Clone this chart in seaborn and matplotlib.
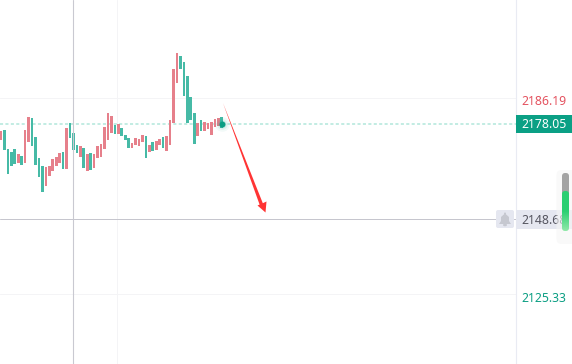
import seaborn as sns
import pandas as pd
import numpy as np
import matplotlib
matplotlib.use('Agg')
import matplotlib.pyplot as plt
from matplotlib.patches import Polygon, Rectangle, FancyBboxPatch, Ellipse

sns.set_theme(style="white")
plt.rcParams['font.family'] = ['Noto Sans', 'DejaVu Sans']

# candle bodies (price)
tops = [2175.98, 2176.19, 2170.32, 2169.39, 2170.32, 2168.77, 2168.15, 2176.19, 2180.21, 2179.90,
        2174.03, 2167.53, 2165.06, 2164.75, 2165.06, 2167.22, 2167.84, 2169.08, 2169.39, 2176.81,
        2178.36, 2175.26, 2171.55, 2171.24, 2170.63, 2168.77, 2169.08, 2168.77, 2171.24, 2171.86,
        2177.12, 2181.45, 2180.52, 2177.74, 2178.05, 2176.81, 2174.65, 2173.72, 2172.17, 2173.72,
        2173.41, 2174.65, 2174.34, 2171.55, 2172.48, 2172.79, 2173.41, 2174.03, 2174.34, 2179.28,
        2195.05, 2200.00, 2199.07, 2197.22, 2192.89, 2186.40, 2181.45, 2178.36, 2179.28, 2178.67,
        2178.36, 2178.67, 2179.59, 2179.90, 2180.21]
bottoms = [2173.10, 2170.01, 2162.59, 2165.06, 2165.68, 2165.99, 2165.37, 2165.99, 2172.48, 2171.24,
           2165.37, 2161.66, 2157.02, 2158.88, 2161.97, 2163.51, 2165.06, 2165.99, 2164.13, 2164.13,
           2173.72, 2170.01, 2169.08, 2167.84, 2164.44, 2163.51, 2163.82, 2164.44, 2167.53, 2167.84,
           2170.32, 2173.10, 2175.26, 2174.95, 2174.95, 2174.34, 2173.10, 2170.63, 2170.63, 2171.55,
           2171.24, 2172.48, 2167.53, 2169.39, 2169.70, 2170.01, 2171.55, 2170.63, 2169.70, 2171.55,
           2178.36, 2190.72, 2195.05, 2186.70, 2178.36, 2179.28, 2171.86, 2174.34, 2175.88, 2175.88,
           2176.50, 2174.65, 2177.12, 2177.43, 2176.81]
sides = list("rgggg" "rgrrg" "gggrr" "rrrgr" "gggrg" "rgrrr" "rrrgr" "gggrr" "rrgrg" "rrgrr" "rrggg"
             "ggrgr" "rrrrg")

last_price = 2178.05
high_price = 2186.19
order_price = 2148.68
low_price = 2125.33

red = '#e6808b'
green = '#46baa6'

df = pd.DataFrame({'idx': np.arange(len(tops)), 'top': tops, 'bottom': bottoms, 'side': sides})
df['span'] = df['top'] - df['bottom']

W, H = 572, 364
fig = plt.figure(figsize=(W / 100, H / 100), dpi=100, facecolor='white')
ax = fig.add_axes([0, 0, 516 / W, 1])

ax.axhline(high_price, color='#f4f4f6', lw=0.72, zorder=0)
ax.axhline(low_price, color='#f4f4f6', lw=0.72, zorder=0)
ax.axvline(33.6, color='#f4f4f6', lw=0.72, zorder=0)
ax.axhline(last_price, color='#bdeae0', lw=1.3, dashes=(1.7, 1.3), zorder=0)

for side, color in [('r', red), ('g', green)]:
    part = df[df['side'] == side]
    sns.barplot(data=part, x='idx', y='span', bottom=part['bottom'], native_scale=True,
                color=color, saturation=1, width=0.76, linewidth=0, ax=ax, zorder=2)

ax.axvline(20.9, color='#c9c9d1', lw=0.8, zorder=3)
ax.axhline(order_price, color='#c6c6ce', lw=0.72, zorder=3)

# glow round the last price
ax.scatter([64], [last_price], s=110, color='#0b9e83', alpha=0.05, lw=0, zorder=4)
ax.scatter([64], [last_price], s=60, color='#0b9e83', alpha=0.08, lw=0, zorder=4)
ax.scatter([64], [last_price], s=30, color='#0b9e83', alpha=0.15, lw=0, zorder=4)
ax.scatter([64], [last_price], s=18, color='#0b9e83', lw=0, zorder=5)

ax.set_xlim(-0.29, 149.28)
ax.set_ylim(2103.84, 2216.39)
ax.set_xticks([])
ax.set_yticks([])
ax.set_xlabel('')
ax.set_ylabel('')
sns.despine(ax=ax, left=True, bottom=True, top=True, right=False)
ax.spines['right'].set_color('#e9ebf3')
ax.spines['right'].set_linewidth(0.8)

# overlay in pixel coordinates for arrow and price tags
ov = fig.add_axes([0, 0, 1, 1], facecolor='none')
ov.set_xlim(0, W)
ov.set_ylim(H, 0)
ov.axis('off')

ov.add_patch(Polygon([(223, 103), (262.8, 203.2), (266.5, 201.5), (265.5, 212.5), (257.5, 205.5), (259.6, 204.6)],
                     closed=True, fc='#ff3434', ec='none', zorder=6))

ov.text(521.5, 101.5, f'{high_price:.2f}', color='#e4525f', fontsize=8.8, va='center', ha='left')
ov.text(521.5, 298.5, f'{low_price:.2f}', color='#0b9e83', fontsize=8.8, va='center', ha='left')

ov.add_patch(Rectangle((516, 115), 56, 18, fc='#0ba085', ec='none'))
ov.text(521.5, 124.5, f'{last_price:.2f}', color='white', fontsize=8.8, fontweight='bold', va='center', ha='left')

ov.add_patch(Rectangle((516, 210), 56, 19, fc='#e5e7f0', ec='none'))
ov.text(521.5, 220, f'{order_price:.2f}', color='#555560', fontsize=8.8, va='center', ha='left')

# bell button
ov.add_patch(FancyBboxPatch((496, 210), 18, 18, boxstyle='round,pad=0,rounding_size=2', fc='#e5e7f0', ec='none'))
ov.add_patch(Polygon([(499, 224), (501, 221), (501, 217), (505, 213.5), (509, 217), (509, 221), (511, 224)],
                     closed=True, fc='#c6c8d0', ec='none'))
ov.add_patch(Ellipse((505, 225), 4, 2.5, fc='#c6c8d0', ec='none'))
ov.add_patch(Ellipse((505, 213.5), 2, 2, fc='#c6c8d0', ec='none'))

# scroll widget on the right edge
ov.add_patch(FancyBboxPatch((556.5, 170), 20, 74, boxstyle='round,pad=0,rounding_size=5', fc='#f5f5f5', ec='none', alpha=0.6, zorder=7))
ov.add_patch(FancyBboxPatch((562, 173), 7, 30, boxstyle='round,pad=0,rounding_size=3.2', fc='#a3a3a3', ec='none', zorder=8))
grad = np.linspace(0, 1, 40).reshape(-1, 1)
cmap = matplotlib.colors.LinearSegmentedColormap.from_list('pill', ['#2bcf72', '#2bcf72', '#8fe8a8'])
im = ov.imshow(grad, extent=(562, 569, 231, 191), origin='upper', cmap=cmap, aspect='auto', zorder=9)
pill = FancyBboxPatch((562, 191), 7, 40, boxstyle='round,pad=0,rounding_size=3.2', transform=ov.transData, fc='none', ec='none')
ov.add_patch(pill)
im.set_clip_path(pill)
ov.set_xlim(0, W)
ov.set_ylim(H, 0)

fig.savefig('out.png', dpi=100)
